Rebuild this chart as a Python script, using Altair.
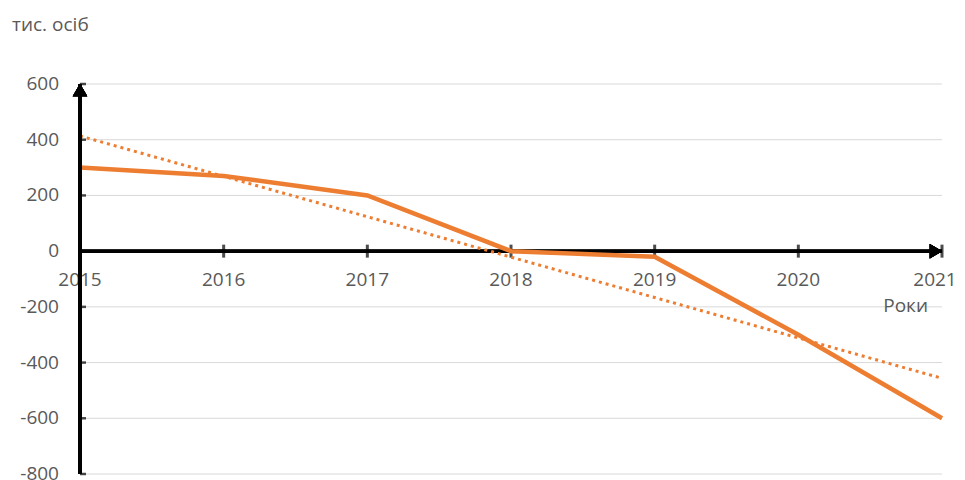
import altair as alt
import pandas as pd

years = [2015, 2016, 2017, 2018, 2019, 2020, 2021]
values = [300, 270, 200, 0, -20, -300, -600]
y_ticks = [600, 400, 200, 0, -200, -400, -600, -800]
y_title = "тис. осіб"
x_title = "Роки"

ORANGE = "#ED7D31"
GRAY = "#595959"
FONT = "Open Sans"
FS = 19

df = pd.DataFrame({"year": years, "value": values})
yt_df = pd.DataFrame({"v": y_ticks, "lab": [str(v) for v in y_ticks]})
grid_df = yt_df[yt_df["v"] != 0]
lab_df = pd.DataFrame({"year": years, "lab": [str(y) for y in years]})
lab_main = lab_df.iloc[:-1]
lab_last = lab_df.iloc[-1:]

xs = alt.Scale(domain=[2015, 2021], nice=False, zero=False)
ys = alt.Scale(domain=[-800, 600], nice=False, zero=False)


def X(**kw):
    return alt.X(scale=xs, axis=None, **kw)


def Y(**kw):
    return alt.Y(scale=ys, axis=None, **kw)


# gridlines
grid = alt.Chart(grid_df).mark_rule(color="#D9D9D9", strokeWidth=1).encode(
    x=X(datum=2015, type="quantitative"),
    x2=alt.X2(datum=2021),
    y=Y(field="v", type="quantitative"),
)

# y labels
ylabels = alt.Chart(yt_df).mark_text(font=FONT, fontSize=FS, color=GRAY, align="right",
                                     baseline="middle", dx=-21).encode(
    x=X(datum=2015, type="quantitative"),
    y=Y(field="v", type="quantitative"),
    text="lab:N",
)

# y axis line
yline = alt.Chart(df).mark_rule(color="black", strokeWidth=3).encode(
    x=X(datum=2015, type="quantitative"),
    y=Y(datum=-800, type="quantitative"),
    y2=alt.Y2(datum=600),
)

# y-axis ticks (inside)
yticks = alt.Chart(yt_df).mark_tick(orient="horizontal", size=6, thickness=2.5, color="black",
                                     xOffset=3).encode(
    x=X(datum=2015, type="quantitative"),
    y=Y(field="v", type="quantitative"),
)

# x axis line at 0
xline = alt.Chart(df).mark_rule(color="black", strokeWidth=3).encode(
    x=X(datum=2015, type="quantitative"),
    x2=alt.X2(datum=2021),
    y=Y(datum=0, type="quantitative"),
)

xticks = alt.Chart(df).mark_tick(orient="vertical", size=13, thickness=3, color="black").encode(
    x=X(field="year", type="quantitative"),
    y=Y(datum=0, type="quantitative"),
)

arrow_up = alt.Chart(df).mark_point(shape="triangle-up", size=210, filled=True, color="black",
                                    opacity=1, yOffset=6).encode(
    x=X(datum=2015, type="quantitative"),
    y=Y(datum=600, type="quantitative"),
)

arrow_right = alt.Chart(df).mark_point(shape="triangle-right", size=210, filled=True, color="black",
                                       opacity=1, xOffset=-6).encode(
    x=X(datum=2021, type="quantitative"),
    y=Y(datum=0, type="quantitative"),
)

xlabels = alt.Chart(lab_main).mark_text(font=FONT, fontSize=FS, color=GRAY, dy=29,
                                        baseline="middle", align="center").encode(
    x=X(field="year", type="quantitative"),
    y=Y(datum=0, type="quantitative"),
    text="lab:N",
)

xlabel_last = alt.Chart(lab_last).mark_text(font=FONT, fontSize=FS, color=GRAY, dy=29, dx=-7,
                                            baseline="middle", align="center").encode(
    x=X(field="year", type="quantitative"),
    y=Y(datum=0, type="quantitative"),
    text="lab:N",
)

xtitle = alt.Chart(pd.DataFrame({"t": [x_title]})).mark_text(
    font=FONT, fontSize=FS, color=GRAY, align="right", baseline="middle", dx=-14, dy=-1
).encode(
    x=X(datum=2021, type="quantitative"),
    y=Y(datum=-200, type="quantitative"),
    text="t:N",
)

ytitle = alt.Chart(pd.DataFrame({"t": [y_title]})).mark_text(
    font=FONT, fontSize=FS, color=GRAY, align="left", baseline="middle"
).encode(
    x=alt.value(-68),
    y=alt.value(-59),
    text="t:N",
)

trend = alt.Chart(df).transform_regression(
    "year", "value", method="linear", extent=[2015, 2021]
).mark_line(color=ORANGE, strokeWidth=3, strokeDash=[3, 4]).encode(
    x=X(field="year", type="quantitative"),
    y=Y(field="value", type="quantitative"),
)

line = alt.Chart(df).mark_line(color=ORANGE, strokeWidth=4.5).encode(
    x=X(field="year", type="quantitative"),
    y=Y(field="value", type="quantitative"),
)

chart = alt.layer(
    grid, ylabels, xlabels, xlabel_last, xtitle, ytitle, xline, xticks, trend, line,
    yline, yticks, arrow_up, arrow_right,
).properties(
    width=862, height=390,
    autosize=alt.AutoSizeParams(type="none"),
    padding={"left": 72, "top": 76, "right": 15, "bottom": 8},
).configure_view(stroke=None)

chart.save("out.html", embed_options={"renderer": "svg", "actions": False})
